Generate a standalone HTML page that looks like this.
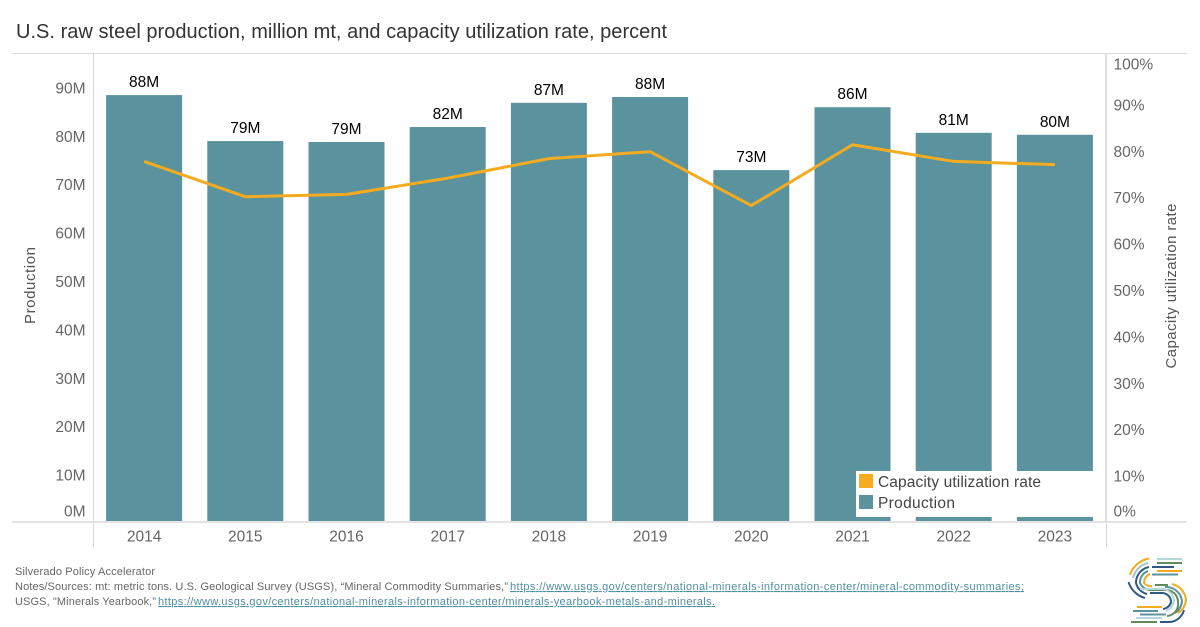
<!DOCTYPE html>
<html lang="en">
<head>
<meta charset="utf-8">
<title>U.S. raw steel production and capacity utilization</title>
<style>
html,body{margin:0;padding:0;background:#fff;width:1200px;height:627px;overflow:hidden}
svg{display:block;font-family:"Liberation Sans",sans-serif}
</style>
</head>
<body>
<svg id="chart" width="1200" height="627" viewBox="0 0 1200 627" xmlns="http://www.w3.org/2000/svg">
  <text x="16" y="38" font-size="20" fill="#333" textLength="651">U.S. raw steel production, million mt, and capacity utilization rate, percent</text>
  <g id="frame">
    <line x1="12" x2="1187" y1="53.5" y2="53.5" stroke="#dcdcdc"/>
    <line x1="93.5" x2="93.5" y1="53" y2="547" stroke="#d8d8d8"/>
    <line x1="1106" x2="1106" y1="53" y2="522" stroke="#dedede" stroke-width="2"/>
    <line x1="1106.5" x2="1106.5" y1="522" y2="547" stroke="#d8d8d8"/>
  </g>
  <g id="bars"></g>
  <polyline id="rate-line" fill="none" stroke="#f5ab1f" stroke-width="3" stroke-linejoin="round"/>
  <g id="bar-labels"></g>
  <g id="left-ticks"></g>
  <g id="right-ticks"></g>
  <g id="x-ticks"></g>
  <line x1="12" x2="1187" y1="522" y2="522" stroke="#dadada" stroke-width="1.5"/>
  <text transform="translate(35,285.5) rotate(-90)" text-anchor="middle" font-size="15" fill="#555" textLength="77">Production</text>
  <text transform="translate(1176,286) rotate(-90)" text-anchor="middle" font-size="15" fill="#555" textLength="165">Capacity utilization rate</text>

  <g>
    <rect x="856" y="471" width="240" height="46" fill="#fff"/>
    <rect x="859" y="474" width="14" height="14" fill="#f8ab1c"/>
    <text x="878" y="487" font-size="15.500" fill="#444" textLength="163">Capacity utilization rate</text>
    <rect x="859" y="495" width="14" height="14" fill="#5a939d"/>
    <text x="878" y="508" font-size="15.500" fill="#444" textLength="77">Production</text>
  </g>

  <g font-size="11" fill="#666">
    <text x="15" y="575" textLength="140">Silverado Policy Accelerator</text>
    <text x="15" y="590" textLength="493">Notes/Sources: mt: metric tons. U.S. Geological Survey (USGS), “Mineral Commodity Summaries,”</text>
    <text x="510" y="590" textLength="514" fill="#4f8fa3" text-decoration="underline">https://www.usgs.gov/centers/national-minerals-information-center/mineral-commodity-summaries;</text>
    <text x="15" y="605" textLength="141">USGS, "Minerals Yearbook,”</text>
    <text x="158" y="605" textLength="557" fill="#4f8fa3" text-decoration="underline">https://www.usgs.gov/centers/national-minerals-information-center/minerals-yearbook-metals-and-minerals.</text>
  </g>

  <g fill="none" stroke-width="2" stroke-linecap="butt">
    <path d="M1149 558.500A24 24 0 0 0 1130 575" stroke="#f5ab1f"/>
    <path d="M1148 563A20 20 0 0 0 1133 578" stroke="#9fc4cc"/>
    <path d="M1128.500 582A24 24 0 0 0 1145 598" stroke="#2d5a80"/>
    <path d="M1149 567A16 16 0 0 0 1136 583A15 15 0 0 0 1147 594" stroke="#2d5a80"/>
    <path d="M1148 571A12 12 0 0 0 1140 583A12 12 0 0 0 1150 590" stroke="#5a939d"/>
    <path d="M1150 574A9 9 0 0 0 1144 583A9 9 0 0 0 1152 586" stroke="#f5ab1f"/>
    <path d="M1157 559H1182" stroke="#b5d8de"/>
    <path d="M1157 563H1182" stroke="#5f8c5a"/>
    <path d="M1152 567H1174" stroke="#2d5a80"/>
    <path d="M1157 571H1182" stroke="#f5ab1f"/>
    <path d="M1152 574.500H1178" stroke="#5a939d"/>
    <path d="M1155 585H1168" stroke="#5f8c5a"/>
    <path d="M1172 584A18 18 0 0 1 1186 600A18 18 0 0 1 1178 613" stroke="#f5ab1f"/>
    <path d="M1165 587A16 16 0 0 1 1182 601A16 16 0 0 1 1175 613" stroke="#5a939d"/>
    <path d="M1150 590H1165A12 12 0 0 1 1178 602A12 12 0 0 1 1167 616" stroke="#5f8c5a"/>
    <path d="M1140 589H1163A13 13 0 0 1 1174 600A13 13 0 0 1 1166 611" stroke="#b5d8de"/>
    <path d="M1150 593H1162A9 9 0 0 1 1171 602A9 9 0 0 1 1163 609" stroke="#2d5a80"/>
    <path d="M1160 622H1170A16 16 0 0 0 1184 610" stroke="#2d5a80"/>
    <path d="M1137 607H1162" stroke="#f5ab1f"/>
    <path d="M1133 611H1158" stroke="#5a939d"/>
    <path d="M1140 614.500H1166" stroke="#5a939d"/>
    <path d="M1136 618H1162" stroke="#b5d8de"/>
    <path d="M1131 622H1157" stroke="#5f8c5a"/>
  </g>
</svg>
<script>
const years = ["2014","2015","2016","2017","2018","2019","2020","2021","2022","2023"];
const production = [88.0, 78.5, 78.3, 81.4, 86.4, 87.6, 72.5, 85.5, 80.2, 79.8];
const productionLabels = ["88M","79M","79M","82M","87M","88M","73M","86M","81M","80M"];
const utilization = [77.6, 70.0, 70.5, 74.0, 78.2, 79.7, 68.1, 81.2, 77.6, 76.9];
const productionTicks = [0, 10, 20, 30, 40, 50, 60, 70, 80, 90];
const utilizationTicks = [0, 10, 20, 30, 40, 50, 60, 70, 80, 90, 100];

const NS = "http://www.w3.org/2000/svg";
const xBand = i => 93.5 + 101.2 * (i + 0.5);
const barW = 76;
const yProd = v => 521 - v * 4.84;
const yRate = v => 521.5 - v * 4.64;

function label(parent, x, y, text, size, fill, anchor) {
  const t = document.createElementNS(NS, "text");
  t.setAttribute("x", x);
  t.setAttribute("y", y);
  t.setAttribute("font-size", size);
  t.setAttribute("fill", fill);
  t.setAttribute("text-anchor", anchor);
  t.textContent = text;
  parent.appendChild(t);
  return t;
}

const barsG = document.getElementById("bars");
const barLabelsG = document.getElementById("bar-labels");
production.forEach((v, i) => {
  const r = document.createElementNS(NS, "rect");
  r.setAttribute("x", xBand(i) - barW / 2);
  r.setAttribute("y", yProd(v));
  r.setAttribute("width", barW);
  r.setAttribute("height", yProd(0) - yProd(v));
  r.setAttribute("fill", "#5a939d");
  
  
  barsG.appendChild(r);
  const t = label(barLabelsG, xBand(i), yProd(v) - 8, productionLabels[i], 15.5, "#000", "middle");
  
  
});

document.getElementById("rate-line").setAttribute(
  "points",
  utilization.map((v, i) => xBand(i) + "," + yRate(v)).join(" ")
);

const leftG = document.getElementById("left-ticks");
productionTicks.forEach(v => {
  const y = Math.min(yProd(v) + 2.5, 511);
  const t = label(leftG, 85.5, y + 5.5, v + "M", 15.5, "#666", "end");
  
  
});

const rightG = document.getElementById("right-ticks");
utilizationTicks.forEach(v => {
  const y = Math.min(Math.max(yRate(v) + 1, 64), 511);
  const t = label(rightG, 1113.5, y + 5.5, v + "%", 15.5, "#666", "start");
  
  
});

const xG = document.getElementById("x-ticks");
years.forEach((yr, i) => {
  const t = label(xG, xBand(i), 541.5, yr, 15.5, "#666", "middle");
  
  
});
</script>
</body>
</html>
